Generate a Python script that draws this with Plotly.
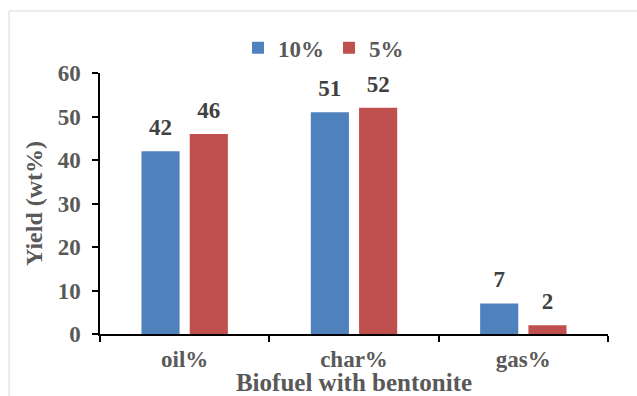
import plotly.graph_objects as go

categories = ["oil%", "char%", "gas%"]
series_names = ["10%", "5%"]
values_10 = [42, 51, 7]
values_5 = [46, 52, 2]
y_ticks = [0, 10, 20, 30, 40, 50, 60]

colors = ["#4F81BD", "#C0504D"]
FONT = "Liberation Serif"
GRAY = "#595959"
DARK = "#404040"


def bold(s):
    return "<b>" + str(s) + "</b>"


fig = go.Figure()
for name, vals, col in zip(series_names, [values_10, values_5], colors):
    fig.add_trace(go.Bar(
        x=categories, y=vals, name=bold(name), offsetgroup=name,
        marker=dict(color=col, line=dict(width=0)),
        hoverinfo="skip",
    ))
for name, vals in zip(series_names, [values_10, values_5]):
    fig.add_trace(go.Scatter(
        x=categories, y=vals, offsetgroup=name, mode="markers+text",
        text=[bold(v) for v in vals], textposition="top center",
        marker=dict(size=15, opacity=0),
        textfont=dict(family=FONT, size=23, color=DARK),
        showlegend=False, hoverinfo="skip", cliponaxis=False,
    ))

fig.update_layout(
    width=637, height=396,
    margin=dict(l=100, r=29, t=73, b=62, autoexpand=False),
    paper_bgcolor="white", plot_bgcolor="white",
    barmode="group", scattermode="group",
    bargap=0.43, bargroupgap=0.21,
    font=dict(family=FONT, color=GRAY),
    legend=dict(orientation="h", x=0.44, xanchor="center", y=0.879, yanchor="middle",
                yref="container",
                font=dict(family=FONT, size=23, color=GRAY),
                itemwidth=30, tracegroupgap=0),
    shapes=[dict(type="rect", xref="paper", yref="paper", x0=-0.179, x1=1.3, y0=-0.5, y1=1.2375,
                 line=dict(color="#D9D9D9", width=1), layer="below")],
)
fig.update_xaxes(
    type="category", showline=True, linecolor="black", linewidth=1.5,
    tickvals=categories, ticktext=[bold(c) for c in categories],
    ticks="outside", tickson="boundaries", ticklen=6, tickcolor="black", tickwidth=1.5,
    ticklabelstandoff=4,
    tickfont=dict(family=FONT, size=23, color=GRAY),
    title=dict(text=bold("Biofuel with bentonite"), standoff=1,
               font=dict(family=FONT, size=25, color=GRAY)),
    showgrid=False, automargin=True,
)
fig.update_yaxes(
    range=[0, 60], tickvals=y_ticks, ticktext=[bold(t) for t in y_ticks],
    showline=True, linecolor="black", linewidth=1.5,
    ticks="outside", ticklen=6, tickcolor="black", tickwidth=1.5,
    ticklabelstandoff=7,
    tickfont=dict(family=FONT, size=23, color=GRAY),
    title=dict(text=bold("Yield (wt%)"), standoff=8,
               font=dict(family=FONT, size=24, color=GRAY)),
    showgrid=False, zeroline=False, automargin=False,
)

fig.write_html("out.html", config={"displayModeBar": False},
               post_script="document.body.style.margin='0';")
